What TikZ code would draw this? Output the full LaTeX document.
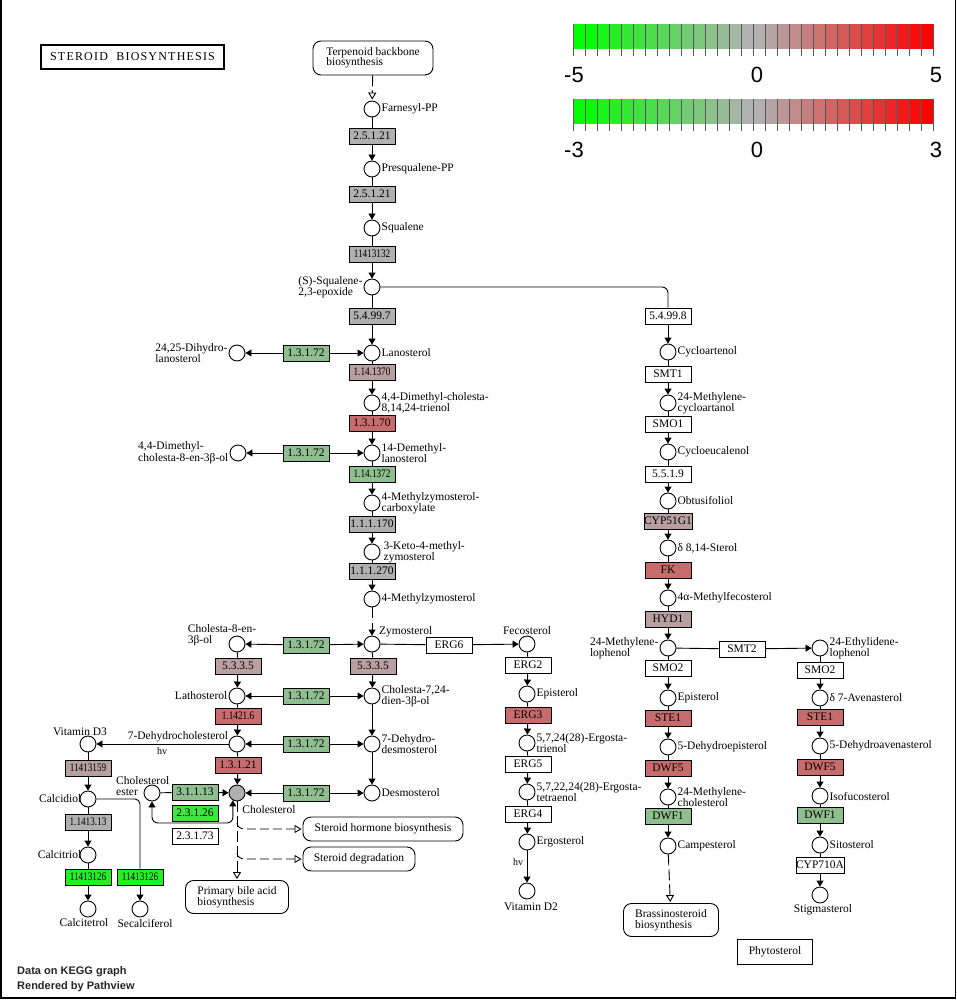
\documentclass[tikz,border=0pt]{standalone}
\usepackage{fontspec}
\setmainfont{Liberation Serif}
\newfontfamily\legendfont{Liberation Sans}
\newfontfamily\titlefont[LetterSpace=10]{Liberation Serif}
\usepackage{xcolor}
\usepackage{graphicx}
\usepackage{tikz}
\usetikzlibrary{arrows.meta}
\usetikzlibrary{positioning, calc}

\definecolor{keggray}{HTML}{B0B0B0}
\definecolor{kegpink}{HTML}{B9A0A0}
\definecolor{kegred}{HTML}{C76C6C}
\definecolor{keggreen}{HTML}{8FBE8F}
\definecolor{kegbright}{HTML}{40E640}
\definecolor{kegbrighter}{HTML}{22F022}

\newcommand{\narrow}[1]{\scalebox{0.8}[1]{#1}}

\tikzset{cpd/.style={circle, draw, fill=white, minimum size=16pt, inner sep=0pt, line width=0.9pt},
enz/.style={rectangle, draw, minimum width=46pt, minimum height=16pt, inner sep=0pt, line width=0.9pt},
mapbox/.style={rectangle, draw, rounded corners=8pt, align=left, inner sep=0pt, line width=0.9pt},
lbl/.style={inner sep=1pt, align=left},
link/.style={line width=0.9pt},
rxn/.style={line width=0.9pt, -{Triangle[length=6pt,width=7pt]}},
both/.style={line width=0.9pt, {Triangle[length=6pt,width=7pt]}-{Triangle[length=6pt,width=7pt]}},
maplink/.style={line width=0.9pt, dash pattern=on 11pt off 4pt, -{Triangle[open,length=7pt,width=8pt]}, shorten >=1pt},
legend/.style={font=\legendfont\fontsize{22}{22}\selectfont, inner sep=0pt}}

\begin{document}
\begin{tikzpicture}[x=1pt, y=-1pt, font=\fontsize{11.5}{10.5}\selectfont]
 \useasboundingbox (0,0) rectangle (957,1000);
 %Frame
 \draw[line width=1.6pt] (1,0) -- (1,998) -- (955.5,998) -- (955.5,0);

 %Title and footer
 \node[draw, line width=2.6pt, minimum width=183pt, minimum height=24pt, inner sep=0pt, font=\titlefont\fontsize{12}{12}\selectfont] (title) at (132.5,57) {STEROID\ \ BIOSYNTHESIS};
 \node[anchor=west, align=left, inner sep=0pt, text=black!85, font=\legendfont\bfseries\fontsize{11}{15}\selectfont] (footer) at (17,979.5) {Data on KEGG graph\\Rendered by Pathview};

 %Colour keys
 \foreach \ybar/\lo/\hi [count=\n] in {24/-5/5, 99/-3/3} {
   \foreach \i in {0,...,29} {
     \ifnum\i<15
       \pgfmathtruncatemacro\p{min(100,round(100*\i/14))}
       \fill[keggray!\p!green] (573+12*\i,\ybar) rectangle ++(12,25);
     \else
       \pgfmathtruncatemacro\p{max(0,round(100*(\i-15)/14))}
       \fill[red!\p!keggray] (573+12*\i,\ybar) rectangle ++(12,25);
     \fi
   }
   \foreach \k in {0,...,30}
     \draw[black!65, line width=1pt] (573+12*\k,\ybar) -- ++(0,32);
   \node[legend] (keymin\n) at (574,\ybar+51) {\lo};
   \node[legend] (keymid\n) at (757,\ybar+51) {0};
   \node[legend] (keymax\n) at (936,\ybar+51) {\hi};
 }

 %Main column: terpenoid to desmosterol
 \node[mapbox, minimum width=120pt, minimum height=34pt] (terp) at (373,58) {Terpenoid backbone\\biosynthesis};
 \node[cpd] (farn) at (372,109) {};
 \node[lbl, right=0pt of farn] (farnlbl) {Farnesyl-PP};
 \node[enz, fill=keggray] (e25121a) at (372,136) {2.5.1.21};
 \node[cpd] (presq) at (372,169) {};
 \node[lbl, right=0pt of presq] (presqlbl) {Presqualene-PP};
 \node[enz, fill=keggray] (e25121b) at (372,194) {2.5.1.21};
 \node[cpd] (squal) at (372,228) {};
 \node[lbl, right=0pt of squal] (squallbl) {Squalene};
 \node[enz, fill=keggray] (e11413132) at (372,254) {\narrow{11413132}};
 \node[cpd] (epox) at (372,287) {};
 \node[lbl, left=0pt of epox] (epoxlbl) {(S)-Squalene-\\2,3-epoxide};
 \node[enz, fill=keggray] (e54997) at (372,316) {5.4.99.7};
 \node[cpd] (lanost) at (372,353) {};
 \node[lbl, right=0pt of lanost] (lanostlbl) {Lanosterol};
 \node[enz, fill=keggreen] (e13172a) at (306,353) {1.3.1.72};
 \node[cpd] (dihlan) at (237,353) {};
 \node[lbl, left=0pt of dihlan] (dihlanlbl) {24,25-Dihydro-\\lanosterol};
 \node[enz, fill=kegpink] (e1141370) at (372,372) {\narrow{1.14.1370}};
 \node[cpd] (trienol) at (372,403) {};
 \node[lbl, right=0pt of trienol] (trienollbl) {4,4-Dimethyl-cholesta-\\8,14,24-trienol};
 \node[enz, fill=kegred] (e13170) at (372,423) {1.3.1.70};
 \node[cpd] (demlan) at (372,453) {};
 \node[lbl, right=0pt of demlan] (demlanlbl) {14-Demethyl-\\lanosterol};
 \node[enz, fill=keggreen] (e13172b) at (306,453) {1.3.1.72};
 \node[cpd] (dmchol) at (238,453) {};
 \node[lbl, left=0pt of dmchol] (dmchollbl) {4,4-Dimethyl-\\cholesta-8-en-3β-ol};
 \node[enz, fill=keggreen] (e1141372) at (372,474) {\narrow{1.14.1372}};
 \node[cpd] (carbox) at (372,503) {};
 \node[lbl, right=0pt of carbox] (carboxlbl) {4-Methylzymosterol-\\carboxylate};
 \node[enz, fill=keggray] (e111170) at (372,524) {1.1.1.170};
 \node[cpd] (keto) at (372,552) {};
 \node[lbl, right=2pt of keto] (ketolbl) {3-Keto-4-methyl-\\zymosterol};
 \node[enz, fill=keggray] (e111270) at (372,571) {1.1.1.270};
 \node[cpd] (methzym) at (372,599) {};
 \node[lbl, right=0pt of methzym] (methzymlbl) {4-Methylzymosterol};
 \node[cpd] (zymo) at (372,644) {};
 \node[lbl, anchor=south west] (zymolbl) at (zymo.north east) {Zymosterol};
 \node[enz, fill=kegpink] (e5335b) at (373,666) {5.3.3.5};
 \node[cpd] (chol724) at (372,696) {};
 \node[lbl, right=0pt of chol724] (chol724lbl) {Cholesta-7,24-\\dien-3β-ol};
 \node[cpd] (dhdes) at (372,744) {};
 \node[lbl, right=0pt of dhdes] (dhdeslbl) {7-Dehydro-\\desmosterol};
 \node[cpd] (desmo) at (372,793) {};
 \node[lbl, right=0pt of desmo] (desmolbl) {Desmosterol};

 %Kandutsch-Russell side
 \node[enz, fill=keggreen] (e13172c) at (306,645) {1.3.1.72};
 \node[cpd] (chol8en) at (237,644) {};
 \node[lbl] (chol8enlbl) at (222,635) {Cholesta-8-en-\\3β-ol};
 \node[enz, fill=kegpink] (e5335a) at (238,666) {5.3.3.5};
 \node[cpd] (lath) at (237,696) {};
 \node[lbl, left=0pt of lath] (lathlbl) {Lathosterol};
 \node[enz, fill=keggreen] (e13172d) at (306,696) {1.3.1.72};
 \node[enz, fill=kegred] (e114216) at (238,716) {\narrow{1.1421.6}};
 \node[cpd] (dhc) at (237,744) {};
 \node[lbl] (dhclbl) at (178,737) {7-Dehydrocholesterol};
 \node[enz, fill=keggreen] (e13172e) at (306,744) {1.3.1.72};
 \node[enz, fill=kegred] (e13121) at (238,765) {1.3.1.21};
 \node[cpd, fill=keggray] (chol) at (237,793) {};
 \node[lbl] (chollbl) at (269,810) {Cholesterol};
 \node[enz, fill=keggreen] (e13172f) at (306,793) {1.3.1.72};

 %Cholesterol ester
 \node[cpd] (cholest) at (152,793) {};
 \node[lbl, anchor=west] (cholestlbl) at (115,786) {Cholesterol\\ester};
 \node[enz, fill=keggreen] (e31113) at (195,792) {3.1.1.13};
 \node[enz, fill=kegbright] (e23126) at (195,813) {2.3.1.26};
 \node[enz] (e23173) at (195,836) {2.3.1.73};
 \coordinate (loopA) at (152,823);
 \coordinate (loopB) at (233,823);

 %Vitamin D
 \node[cpd] (vitd3) at (88,744) {};
 \node[lbl] (vitd3lbl) at (80,732) {Vitamin D3};
 \node[lbl, font=\fontsize{10}{10}\selectfont] (hvone) at (162,751) {hv};
 \node[enz, fill=kegpink] (e11413159) at (88,768) {\narrow{11413159}};
 \node[cpd] (calcidiol) at (88,799) {};
 \node[lbl, left=-3pt of calcidiol] (calcidiollbl) {Calcidiol};
 \node[enz, fill=keggray] (e11413113) at (88,822) {\narrow{1.1413.13}};
 \node[cpd] (calcitriol) at (88,855) {};
 \node[lbl, left=-3pt of calcitriol] (calcitriollbl) {Calcitriol};
 \node[enz, fill=kegbrighter] (e11413126a) at (88,877) {\narrow{11413126}};
 \node[cpd] (calcitetrol) at (88,909) {};
 \node[lbl] (calcitetrollbl) at (84,923) {Calcitetrol};
 \node[enz, fill=kegbrighter] (e11413126b) at (140,877) {\narrow{11413126}};
 \node[cpd] (secal) at (140,909) {};
 \node[lbl] (secallbl) at (145,923) {Secalciferol};
 \coordinate (secturn) at (140,799);

 %Maps below cholesterol
 \node[mapbox, minimum width=160pt, minimum height=24pt, align=center] (hormone) at (383,829) {Steroid hormone biosynthesis};
 \node[mapbox, minimum width=112pt, minimum height=24pt, align=center] (degrad) at (359,859) {Steroid degradation};
 \node[mapbox, minimum width=103pt, minimum height=33pt] (bile) at (237,897) {Primary bile acid\\biosynthesis};
 \coordinate (brone) at (237,823);
 \coordinate (brtwo) at (237,853);

 %Ergosterol branch
 \node[enz] (erg6) at (449,645) {ERG6};
 \node[cpd] (feco) at (527,644) {};
 \node[lbl, above=0pt of feco] (fecolbl) {Fecosterol};
 \node[enz] (erg2) at (528,665) {ERG2};
 \node[cpd] (epistA) at (527,694) {};
 \node[lbl, right=0pt of epistA] (epistAlbl) {Episterol};
 \node[enz, fill=kegred] (erg3) at (528,715) {ERG3};
 \node[cpd] (trienolB) at (527,743) {};
 \node[lbl, right=0pt of trienolB] (trienolBlbl) {5,7,24(28)-Ergosta-\\trienol};
 \node[enz] (erg5) at (528,764) {ERG5};
 \node[cpd] (tetraenol) at (527,792) {};
 \node[lbl, right=0pt of tetraenol] (tetraenollbl) {5,7,22,24(28)-Ergosta-\\tetraenol};
 \node[enz] (erg4) at (528,814) {ERG4};
 \node[cpd] (ergost) at (527,842) {};
 \node[lbl, right=0pt of ergost] (ergostlbl) {Ergosterol};
 \node[lbl, font=\fontsize{10}{10}\selectfont] (hvtwo) at (518,862) {hv};
 \node[cpd] (vitd2) at (527,891) {};
 \node[lbl] (vitd2lbl) at (531,907) {Vitamin D2};

 %Plant sterols: cycloartenol column
 \coordinate (turn) at (668,287);
 \node[enz] (e54998) at (668,316) {5.4.99.8};
 \node[cpd] (cycloart) at (668,352) {};
 \node[lbl, right=0pt of cycloart] (cycloartlbl) {Cycloartenol};
 \node[enz] (smt1) at (668,374) {SMT1};
 \node[cpd] (mecyc) at (668,403) {};
 \node[lbl, right=0pt of mecyc] (mecyclbl) {24-Methylene-\\cycloartanol};
 \node[enz] (smo1) at (668,424) {SMO1};
 \node[cpd] (cycloeu) at (668,452) {};
 \node[lbl, right=0pt of cycloeu] (cycloeulbl) {Cycloeucalenol};
 \node[enz] (e5519) at (668,474) {5.5.1.9};
 \node[cpd] (obtus) at (668,501) {};
 \node[lbl, right=0pt of obtus] (obtuslbl) {Obtusifoliol};
 \node[enz, fill=kegpink] (cyp51) at (668,521) {CYP51G1};
 \node[cpd] (d814) at (668,548) {};
 \node[lbl, right=0pt of d814] (d814lbl) {δ 8,14-Sterol};
 \node[enz, fill=kegred] (fk) at (668,570) {FK};
 \node[cpd] (mfeco) at (668,598) {};
 \node[lbl, right=0pt of mfeco] (mfecolbl) {4α-Methylfecosterol};
 \node[enz, fill=kegpink] (hyd1) at (668,619) {HYD1};
 \node[cpd] (melop) at (668,648) {};
 \node[lbl, left=0pt of melop] (meloplbl) {24-Methylene-\\lophenol};
 \node[enz] (smt2) at (742,649) {SMT2};
 \node[enz] (smo2a) at (668,668) {SMO2};
 \node[cpd] (epistB) at (668,698) {};
 \node[lbl, right=0pt of epistB] (epistBlbl) {Episterol};
 \node[enz, fill=kegred] (ste1a) at (668,718) {STE1};
 \node[cpd] (dhepist) at (668,747) {};
 \node[lbl, right=0pt of dhepist] (dhepistlbl) {5-Dehydroepisterol};
 \node[enz, fill=kegred] (dwf5a) at (668,768) {DWF5};
 \node[cpd] (mechol) at (668,797) {};
 \node[lbl, right=0pt of mechol] (mechollbl) {24-Methylene-\\cholesterol};
 \node[enz, fill=keggreen] (dwf1a) at (668,816) {DWF1};
 \node[cpd] (campest) at (668,846) {};
 \node[lbl, right=0pt of campest] (campestlbl) {Campesterol};
 \node[mapbox, minimum width=95pt, minimum height=33pt] (brass) at (671,920) {Brassinosteroid\\biosynthesis};

 %Plant sterols: sitosterol column
 \node[cpd] (etlop) at (820,648) {};
 \node[lbl, right=0pt of etlop] (etloplbl) {24-Ethylidene-\\lophenol};
 \node[enz] (smo2b) at (820,670) {SMO2};
 \node[cpd] (aven) at (820,698) {};
 \node[lbl, right=0pt of aven] (avenlbl) {δ 7-Avenasterol};
 \node[enz, fill=kegred] (ste1b) at (820,717) {STE1};
 \node[cpd] (dhaven) at (820,746) {};
 \node[lbl, right=0pt of dhaven] (dhavenlbl) {5-Dehydroavenasterol};
 \node[enz, fill=kegred] (dwf5b) at (820,767) {DWF5};
 \node[cpd] (isofuc) at (820,796) {};
 \node[lbl, right=0pt of isofuc] (isofuclbl) {Isofucosterol};
 \node[enz, fill=keggreen] (dwf1b) at (820,815) {DWF1};
 \node[cpd] (sitost) at (820,845) {};
 \node[lbl, right=0pt of sitost] (sitostlbl) {Sitosterol};
 \node[enz] (cyp710) at (820,865) {CYP710A};
 \node[cpd] (stigma) at (820,895) {};
 \node[lbl] (stigmalbl) at (823,910) {Stigmasterol};
 \node[draw, line width=0.9pt, minimum width=75pt, minimum height=25pt, inner sep=0pt] (phyto) at (775,952) {Phytosterol};

 %Reactions: main column
 \draw[maplink] (terp) -- (farn);
 \draw[link] (farn) -- (e25121a); \draw[rxn] (e25121a) -- (presq);
 \draw[link] (presq) -- (e25121b); \draw[rxn] (e25121b) -- (squal);
 \draw[link] (squal) -- (e11413132); \draw[rxn] (e11413132) -- (epox);
 \draw[link] (epox) -- (e54997); \draw[rxn] (e54997) -- (lanost);
 \draw[rxn] (e13172a) -- (lanost); \draw[rxn] (e13172a) -- (dihlan);
 \draw[link] (lanost) -- (e1141370); \draw[rxn] (e1141370) -- (trienol);
 \draw[link] (trienol) -- (e13170); \draw[rxn] (e13170) -- (demlan);
 \draw[rxn] (e13172b) -- (demlan); \draw[rxn] (e13172b) -- (dmchol);
 \draw[link] (demlan) -- (e1141372); \draw[rxn] (e1141372) -- (carbox);
 \draw[link] (carbox) -- (e111170); \draw[rxn] (e111170) -- (keto);
 \draw[link] (keto) -- (e111270); \draw[rxn] (e111270) -- (methzym);
 \draw[rxn, dash pattern=on 11pt off 5pt] (methzym) -- (zymo);
 \draw[link] (zymo) -- (e5335b); \draw[rxn] (e5335b) -- (chol724);
 \draw[rxn] (chol724) -- (dhdes);
 \draw[rxn] (dhdes) -- (desmo);

 %Reactions: left side
 \draw[rxn] (e13172c) -- (zymo); \draw[rxn] (e13172c) -- (chol8en);
 \draw[link] (chol8en) -- (e5335a); \draw[rxn] (e5335a) -- (lath);
 \draw[rxn] (e13172d) -- (chol724); \draw[rxn] (e13172d) -- (lath);
 \draw[link] (lath) -- (e114216); \draw[rxn] (e114216) -- (dhc);
 \draw[rxn] (e13172e) -- (dhdes); \draw[rxn] (e13172e) -- (dhc);
 \draw[link] (dhc) -- (e13121); \draw[rxn] (e13121) -- (chol);
 \draw[rxn] (e13172f) -- (desmo); \draw[rxn] (e13172f) -- (chol);
 \draw[link] (cholest) -- (e31113); \draw[rxn] (e31113) -- (chol);
 \draw[both, rounded corners=6pt] (cholest) -- (loopA) -- (loopB) -- (chol.-120);

 %Reactions: vitamin D
 \draw[rxn] (dhc) -- (vitd3);
 \draw[link] (vitd3) -- (e11413159); \draw[rxn] (e11413159) -- (calcidiol);
 \draw[link] (calcidiol) -- (e11413113); \draw[rxn] (e11413113) -- (calcitriol);
 \draw[link] (calcitriol) -- (e11413126a); \draw[rxn] (e11413126a) -- (calcitetrol);
 \draw[link, rounded corners=5pt] (calcidiol) -- (secturn) -- (e11413126b);
 \draw[rxn] (e11413126b) -- (secal);

 %Links to other maps
 \draw[maplink] (chol) -- (bile);
 \draw[maplink, dash pattern=on 9pt off 4pt] (brone) to[out=-90, in=180] ++(8,6) -- (hormone);
 \draw[maplink, dash pattern=on 9pt off 4pt] (brtwo) to[out=-90, in=180] ++(8,6) -- (degrad);

 %Reactions: ergosterol branch
 \draw[link] (zymo) -- (erg6); \draw[rxn] (erg6) -- (feco);
 \draw[link] (feco) -- (erg2); \draw[rxn] (erg2) -- (epistA);
 \draw[link] (epistA) -- (erg3); \draw[rxn] (erg3) -- (trienolB);
 \draw[link] (trienolB) -- (erg5); \draw[rxn] (erg5) -- (tetraenol);
 \draw[link] (tetraenol) -- (erg4); \draw[rxn] (erg4) -- (ergost);
 \draw[rxn] (ergost) -- (vitd2);

 %Reactions: plant sterols
 \draw[link, rounded corners=6pt] (epox) -- (turn) -- (e54998);
 \draw[rxn] (e54998) -- (cycloart);
 \draw[link] (cycloart) -- (smt1); \draw[rxn] (smt1) -- (mecyc);
 \draw[link] (mecyc) -- (smo1); \draw[rxn] (smo1) -- (cycloeu);
 \draw[link] (cycloeu) -- (e5519); \draw[rxn] (e5519) -- (obtus);
 \draw[link] (obtus) -- (cyp51); \draw[rxn] (cyp51) -- (d814);
 \draw[link] (d814) -- (fk); \draw[rxn] (fk) -- (mfeco);
 \draw[link] (mfeco) -- (hyd1); \draw[rxn] (hyd1) -- (melop);
 \draw[link] (melop) -- (smt2); \draw[rxn] (smt2) -- (etlop);
 \draw[link] (melop) -- (smo2a); \draw[rxn] (smo2a) -- (epistB);
 \draw[link] (epistB) -- (ste1a); \draw[rxn] (ste1a) -- (dhepist);
 \draw[link] (dhepist) -- (dwf5a); \draw[rxn] (dwf5a) -- (mechol);
 \draw[link] (mechol) -- (dwf1a); \draw[rxn] (dwf1a) -- (campest);
 \draw[maplink] (campest) -- (brass);
 \draw[link] (etlop) -- (smo2b); \draw[rxn] (smo2b) -- (aven);
 \draw[link] (aven) -- (ste1b); \draw[rxn] (ste1b) -- (dhaven);
 \draw[link] (dhaven) -- (dwf5b); \draw[rxn] (dwf5b) -- (isofuc);
 \draw[link] (isofuc) -- (dwf1b); \draw[rxn] (dwf1b) -- (sitost);
 \draw[link] (sitost) -- (cyp710); \draw[rxn] (cyp710) -- (stigma);

\end{tikzpicture}
\end{document}
